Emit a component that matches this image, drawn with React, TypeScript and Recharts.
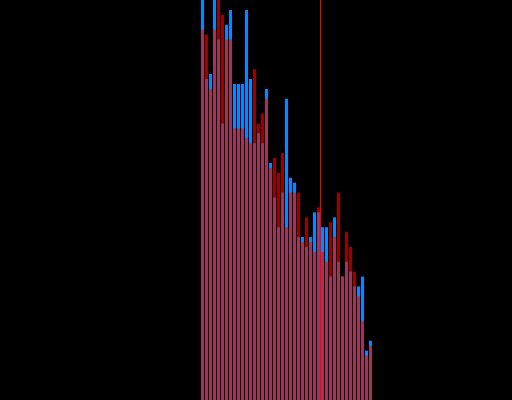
import { BarChart, Bar, XAxis, YAxis, ReferenceLine } from "recharts";

// histogram bins (index of each bin)
const bins = Array.from({ length: 43 }, (_, i) => i);

// counts per bin; first bins overflow the top of the frame
const blueCounts = [
  85, 65, 66, 86, 73, 56, 76, 79, 64, 64, 64, 79, 65, 52, 54, 52, 63, 48, 41, 35, 42, 61, 45, 44, 33, 33, 31, 33, 38,
  38, 35, 35, 25, 37, 28, 25, 28, 26, 23, 23, 25, 10, 12,
];
const redCounts = [
  75, 74, 63, 75, 84, 78, 73, 73, 55, 55, 55, 53, 52, 67, 56, 58, 61, 47, 49, 46, 50, 35, 42, 42, 42, 32, 37, 32, 30,
  39, 30, 28, 36, 33, 42, 25, 34, 31, 26, 21, 16, 9, 11,
];

const cutoff = 29.375;
const yMax = 81;

const data = bins.map((bin, i) => ({ bin, blue: blueCounts[i], red: redCounts[i] }));

export default function App() {
  return (
    <div style={{ position: "absolute", left: 0, top: 0, width: 512, height: 400, background: "#000" }}>
      <BarChart
        width={512}
        height={400}
        data={data}
        barSize={3}
        barGap={-3}
        margin={{ top: 0, right: 139, bottom: 0, left: 201 }}
      >
        <XAxis type="number" dataKey="bin" domain={[-0.5, 42.5]} hide />
        <YAxis domain={[0, yMax]} allowDataOverflow hide />
        <Bar dataKey="blue" fill="#008cff" isAnimationActive={false} />
        <Bar dataKey="red" fill="#ff0000" fillOpacity={0.62} isAnimationActive={false} />
        <ReferenceLine x={cutoff} stroke="#ff0000" strokeWidth={1} />
      </BarChart>
    </div>
  );
}
